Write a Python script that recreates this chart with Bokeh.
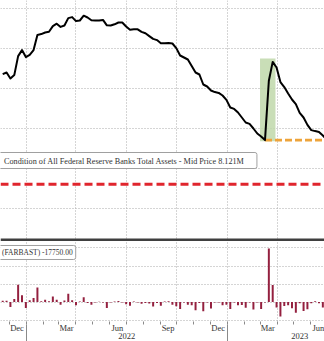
import pandas as pd
from bokeh.plotting import figure
from bokeh.layouts import column
from bokeh.models import (Range1d, FixedTicker, LinearAxis, Span, Label, ColumnDataSource,
                          BoxAnnotation)
from bokeh.embed import file_html
from bokeh.resources import INLINE

# ---------------- data ----------------
week_start = "2021-11-19"
total_assets_tn = [
    8.672, 8.680, 8.650, 8.667, 8.762, 8.792, 8.757, 8.768, 8.792, 8.868,
    8.872, 8.880, 8.884, 8.912, 8.924, 8.908, 8.915, 8.952, 8.957, 8.937,
    8.940, 8.964, 8.955, 8.941, 8.940, 8.940, 8.943, 8.916, 8.915, 8.921,
    8.930, 8.930, 8.910, 8.894, 8.896, 8.896, 8.883, 8.876, 8.862, 8.848,
    8.842, 8.826, 8.826, 8.827, 8.825, 8.802, 8.765, 8.755, 8.745, 8.712,
    8.680, 8.670, 8.620, 8.610, 8.590, 8.582, 8.578, 8.565, 8.543, 8.505,
    8.498, 8.480, 8.455, 8.430, 8.423, 8.400, 8.375, 8.360, 8.342, 8.639,
    8.733, 8.705, 8.632, 8.607, 8.575, 8.545, 8.522, 8.478, 8.455, 8.418,
    8.392, 8.387, 8.383, 8.365, 8.345,
]
weekly_change_bn = [
    7, 7, -28, 17, 96, 37, -33, 10, 22, 81, 5, 13, 5, 31, 13, -15, 8, 46, 10, -18, 3, 26,
    -5, -15, -2, 2, -3, -33, -2, 3, 6, -2, -12, -20, 3, -2, -10, -6, -8, -25, -5, -20, 3,
    5, -15, -24, -38, -3, -15, -18, -45, -5, -51, -3, -36, -2, -3, -18, -15, -38, -3, -18,
    -16, -32, -3, -42, -3, -38, -3,
    297, 94, -30, -80, -22, -18, -35, -60, -7, -50, -40, -7, 5, -7, -30, -7,
]
last_price_tn = 8.121
last_change_mn = -17750.00
pre_svb_date = "2023-03-10"
pre_svb_level = 8.342
highlight_start = "2023-03-01"
highlight_end = "2023-03-29"
highlight_low = 8.336
highlight_high = 8.750

x_start = "2021-11-15"
x_end = "2023-06-26"
assets_grid = [8.0, 8.2, 8.4, 8.6, 8.8, 9.0]
change_grid = [-100, 0, 100, 200, 300]
quarter_starts = ["2022-01-01", "2022-04-01", "2022-07-01", "2022-10-01", "2023-01-01", "2023-04-01"]
month_label_dates = ["2021-12-15", "2022-03-15", "2022-06-15", "2022-09-15", "2022-12-15", "2023-03-15", "2023-06-15"]
month_labels = ["Dec", "Mar", "Jun", "Sep", "Dec", "Mar", "Jun"]
year_label_dates = ["2022-07-02", "2023-05-12"]
year_labels = ["2022", "2023"]
year_starts = ["2022-01-01", "2023-01-01"]
month_starts = pd.date_range("2021-12-01", "2023-06-01", freq="MS")

FONT = "Liberation Sans Narrow"


def ms(d):
    return float(pd.Timestamp(d).value // 10**6)


dates = pd.date_range(week_start, periods=len(total_assets_tn), freq="7D")
src = ColumnDataSource(dict(date=dates, assets=total_assets_tn, chg=weekly_change_bn))

xr = Range1d(start=pd.Timestamp(x_start), end=pd.Timestamp(x_end))


def style_grid(p, yticks):
    p.xgrid.ticker = FixedTicker(ticks=[ms(d) for d in quarter_starts])
    p.ygrid.ticker = FixedTicker(ticks=yticks)
    p.grid.grid_line_color = "#aaaaaa"
    p.grid.grid_line_dash = "1 2"
    p.grid.grid_line_width = 1


# ---------------- top panel (with dark separator at its bottom) ----------------
p1 = figure(width=324, height=241, x_range=xr, y_range=Range1d(7.835, 9.04),
            x_axis_type="datetime", x_axis_location=None, y_axis_location=None,
            toolbar_location=None, output_backend="svg", min_border=0,
            outline_line_color=None, background_fill_color="white", border_fill_color="white")
style_grid(p1, assets_grid)

p1.quad(left=[pd.Timestamp(highlight_start)], right=[pd.Timestamp(highlight_end)],
        bottom=[highlight_low], top=[highlight_high],
        fill_color="#c0d8aa", fill_alpha=0.85, line_color=None)
p1.line(x=[pd.Timestamp(pre_svb_date), dates[-1] + pd.Timedelta(days=60)],
        y=[pre_svb_level, pre_svb_level],
        line_color="#eea43a", line_width=2.6, line_dash="7 3")
p1.line("date", "assets", source=src, line_color="black", line_width=2, line_join="round")
p1.add_layout(Span(location=last_price_tn, dimension="width", line_color="#e0252d",
                   line_width=3, line_dash="8 4"))
p1.add_layout(Label(
    x=-26.5, y=8.24, x_units="screen", y_units="data",
    text=f"Condition of All Federal Reserve Banks Total Assets - Mid Price {last_price_tn}M",
    text_font=FONT, text_font_size="8.2px", text_color="#333333", text_baseline="middle",
    background_fill_color="white", border_line_color="#a0a0a0", border_line_width=1,
    padding=dict(left=30, right=12, top=4, bottom=3), border_radius=2))
p1.add_layout(BoxAnnotation(top=7.85, fill_color="#3f3f3f", fill_alpha=1.0,
                            line_color=None, level="overlay"))

# ---------------- bottom panel ----------------
p3 = figure(width=324, height=100, x_range=xr, y_range=Range1d(-108, 336),
            x_axis_type="datetime", y_axis_location=None,
            toolbar_location=None, output_backend="svg", min_border=0, min_border_bottom=20,
            outline_line_color=None, background_fill_color="white", border_fill_color="white")
style_grid(p3, change_grid)

p3.vbar(x="date", top="chg", bottom=0, width=3.6 * 86400000, source=src,
        fill_color="#94203f", line_color=None)

month_ms = [ms(d) for d in month_label_dates]
ax = p3.xaxis[0]
ax.ticker = FixedTicker(ticks=month_ms, minor_ticks=[ms(d) for d in month_starts])
ax.major_label_overrides = dict(zip(month_ms, month_labels))
ax.axis_line_color = None
ax.major_tick_line_color = None
ax.major_tick_out = 0
ax.major_tick_in = 0
ax.minor_tick_line_color = "#8a8a8a"
ax.minor_tick_out = 3
ax.minor_tick_in = 0
ax.major_label_standoff = -2
ax.major_label_text_font = FONT
ax.major_label_text_font_size = "8.5px"
ax.major_label_text_color = "#333333"

year_ms = [ms(d) for d in year_label_dates]
ax2 = LinearAxis(
    ticker=FixedTicker(ticks=year_ms, minor_ticks=[ms(d) for d in year_starts]),
    major_label_overrides=dict(zip(year_ms, year_labels)),
    axis_line_color=None, major_tick_line_color=None, major_tick_out=0, major_tick_in=0,
    minor_tick_line_color="#8a8a8a", minor_tick_in=11, minor_tick_out=9,
    major_label_standoff=-12, major_label_text_font=FONT, major_label_text_font_size="8.5px",
    major_label_text_color="#333333")
p3.add_layout(ax2, "below")

p3.add_layout(Label(
    x=-28.5, y=275, x_units="screen", y_units="data",
    text=f"(FARBAST) {last_change_mn:.2f}",
    text_font=FONT, text_font_size="7.5px", text_color="#333333", text_baseline="middle",
    background_fill_color="white", border_line_color="#a0a0a0", border_line_width=1,
    padding=dict(left=30, right=3, top=3, bottom=2), border_radius=2))

layout = column(p1, p3, spacing=0)
open("out.html", "w").write(file_html(layout, INLINE))
